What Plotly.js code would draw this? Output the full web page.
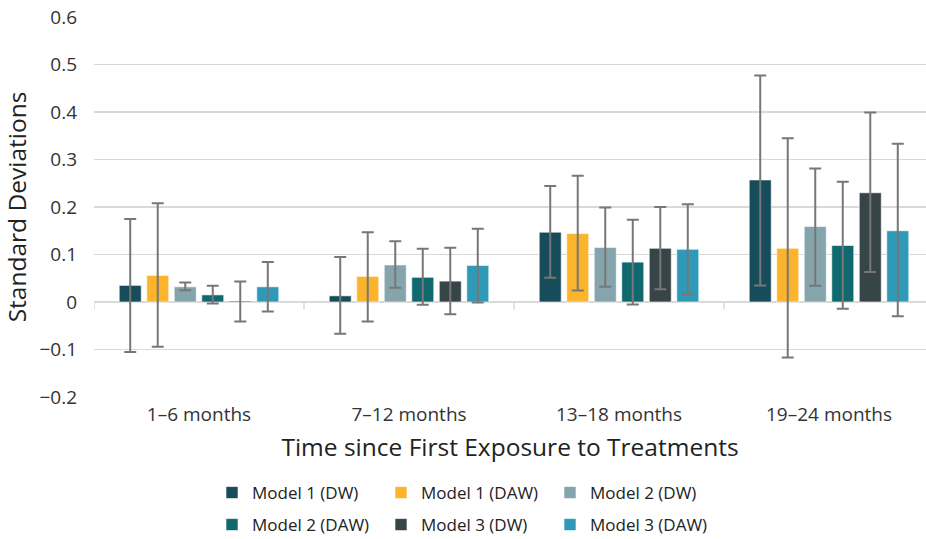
<!DOCTYPE html>
<html><head><meta charset="utf-8">
<script src="https://cdn.plot.ly/plotly-3.0.1.min.js"></script>
<style>html,body{margin:0;padding:0;background:#fff}</style>
</head><body>
<div id="chart" style="width:926px;height:539px"></div>
<script>
const categories = ["1–6 months", "7–12 months", "13–18 months", "19–24 months"];
const seriesNames = ["Model 1 (DW)", "Model 1 (DAW)", "Model 2 (DW)", "Model 2 (DAW)", "Model 3 (DW)", "Model 3 (DAW)"];
const colors = ["#174c5a", "#fbb42c", "#86a4ab", "#10696e", "#374549", "#2e9ab8"];

const m1dw  = [0.035, 0.013, 0.147, 0.257];
const m1daw = [0.056, 0.054, 0.144, 0.113];
const m2dw  = [0.032, 0.078, 0.115, 0.159];
const m2daw = [0.015, 0.052, 0.084, 0.119];
const m3dw  = [0.002, 0.044, 0.113, 0.230];
const m3daw = [0.032, 0.077, 0.111, 0.150];

const m1dwHi  = [0.175, 0.095, 0.244, 0.477];
const m1dwLo  = [-0.105, -0.067, 0.051, 0.035];
const m1dawHi = [0.208, 0.147, 0.266, 0.345];
const m1dawLo = [-0.094, -0.041, 0.024, -0.117];
const m2dwHi  = [0.041, 0.128, 0.199, 0.281];
const m2dwLo  = [0.025, 0.030, 0.032, 0.034];
const m2dawHi = [0.034, 0.112, 0.173, 0.253];
const m2dawLo = [-0.003, -0.006, -0.005, -0.014];
const m3dwHi  = [0.043, 0.114, 0.200, 0.399];
const m3dwLo  = [-0.041, -0.026, 0.027, 0.063];
const m3dawHi = [0.084, 0.154, 0.206, 0.333];
const m3dawLo = [-0.020, -0.001, 0.016, -0.030];

const values = [m1dw, m1daw, m2dw, m2daw, m3dw, m3daw];
const highs = [m1dwHi, m1dawHi, m2dwHi, m2dawHi, m3dwHi, m3dawHi];
const lows = [m1dwLo, m1dawLo, m2dwLo, m2dawLo, m3dwLo, m3dawLo];

const font = "'Open Sans', 'Noto Sans', sans-serif";

const traces = values.map((v, i) => ({
  type: "bar",
  name: seriesNames[i],
  x: categories.map((c, k) => k),
  y: v,
  marker: {color: colors[i], line: {color: "rgba(255,255,255,0.6)", width: 1}},
  error_y: {
    type: "data", symmetric: false,
    array: v.map((val, k) => highs[i][k] - val),
    arrayminus: v.map((val, k) => val - lows[i][k]),
    color: "#777777", thickness: 2, width: 6
  },
  legend: i < 3 ? "legend" : "legend2",
  hoverinfo: "skip"
}));

const legendCommon = {
  orientation: "h", xref: "container", yref: "container",
  xanchor: "left", yanchor: "middle",
  entrywidthmode: "pixels", entrywidth: 124,
  font: {family: font, size: 17, color: "#222"},
  itemwidth: 30, tracegroupgap: 0, bgcolor: "rgba(0,0,0,0)"
};

const tickShapes = [-0.5, 0.5, 1.5, 2.5].map(x => ({
  type: "line", xref: "x", yref: "y", x0: x, x1: x, y0: 0, y1: -0.016,
  line: {color: "#d9d9d9", width: 1.5}, layer: "below"
}));

const layout = {
  width: 926, height: 539,
  margin: {l: 94, r: 0, t: 17, b: 142},
  paper_bgcolor: "#fff", plot_bgcolor: "#fff",
  barmode: "group", bargap: 0.214, bargroupgap: 0.2,
  showlegend: true,
  font: {family: font, color: "#333"},
  xaxis: {
    range: [-0.5, -0.5 + 832 / 210],
    tickmode: "array", tickvals: [0, 1, 2, 3], ticktext: categories,
    showgrid: false, zeroline: false, showline: false, ticks: "",
    ticklabelstandoff: 4,
    tickfont: {family: font, size: 19, color: "#333"},
    title: {text: "Time since First Exposure to Treatments", font: {family: font, size: 24.5, color: "#222"}, standoff: 12},
    fixedrange: true
  },
  yaxis: {
    range: [-0.2, 0.6], dtick: 0.1, tick0: 0,
    showgrid: true, gridcolor: "#d9d9d9", gridwidth: 1.5,
    zeroline: true, zerolinecolor: "#d9d9d9", zerolinewidth: 1.5,
    showline: false, ticks: "", ticklabelstandoff: 16,
    tickfont: {family: font, size: 19, color: "#333"},
    title: {text: "Standard Deviations", font: {family: font, size: 24.5, color: "#222"}, standoff: 8},
    fixedrange: true
  },
  legend: Object.assign({}, legendCommon, {x: 212 / 926, y: 1 - 493 / 539}),
  legend2: Object.assign({}, legendCommon, {x: 212 / 926, y: 1 - 525 / 539}),
  shapes: tickShapes
};

Plotly.newPlot("chart", traces, layout, {displayModeBar: false, staticPlot: true});
</script>
</body></html>
